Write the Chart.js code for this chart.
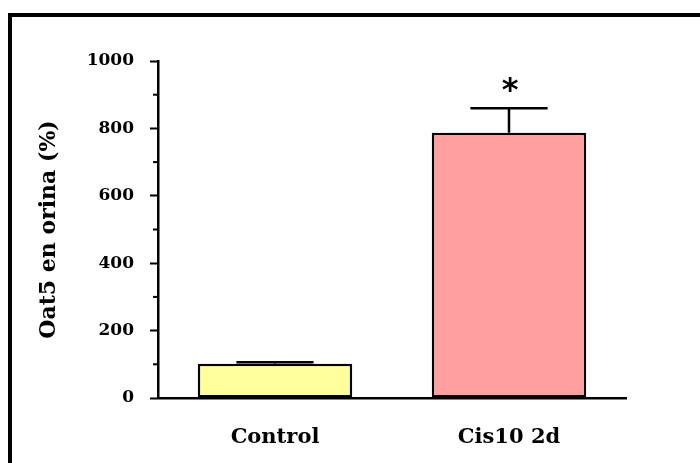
<!DOCTYPE html>
<html>
<head>
<meta charset="utf-8">
<script src="https://cdn.jsdelivr.net/npm/chart.js@4.4.1/dist/chart.umd.min.js"></script>
<style>
  html, body { margin: 0; padding: 0; background: #fff; }
  #wrap { width: 700px; height: 463px; }
</style>
</head>
<body>
<div id="wrap"><canvas id="chart" width="700" height="463"></canvas></div>
<script>
// values
const groups = ["Control", "Cis10 2d"];
const oat5 = [102, 787];        // % of control
const oat5Err = [4, 73];        // upper error bar (SEM)
const signif = ["", "*"];       // significance marks
const barColors = ["#ffff9c", "#ff9f9f"];

const serif = '"DejaVu Serif", "Liberation Serif", serif';

// outer frame of the figure panel
const framePlugin = {
    id: "frame",
    afterDraw(chart) {
        const ctx = chart.ctx;
        ctx.save();
        ctx.strokeStyle = "#000";
        ctx.lineWidth = 4;
        ctx.strokeRect(10, 15, chart.width + 20, chart.height + 20);
        ctx.restore();
    }
};

// short minor ticks on the y axis (every odd hundred)
const minorTickPlugin = {
    id: "minorTicks",
    afterDraw(chart) {
        const y = chart.scales.y;
        const ctx = chart.ctx;
        ctx.save();
        ctx.strokeStyle = "#000";
        ctx.lineWidth = 2;
        y.ticks.forEach((t) => {
            if (t.value % 200 === 0) return;
            const py = y.getPixelForValue(t.value);
            ctx.beginPath();
            ctx.moveTo(y.right - 5, py);
            ctx.lineTo(y.right, py);
            ctx.stroke();
        });
        ctx.restore();
    }
};

// error bars and significance asterisk
const errorBarPlugin = {
    id: "errorBars",
    afterDatasetsDraw(chart) {
        const ctx = chart.ctx;
        const yScale = chart.scales.y;
        const meta = chart.getDatasetMeta(0);
        ctx.save();
        ctx.strokeStyle = "#000";
        ctx.lineWidth = 2.5;
        meta.data.forEach((bar, i) => {
            const top = yScale.getPixelForValue(oat5[i] + oat5Err[i]);
            const half = bar.width * 0.25;
            ctx.beginPath();
            ctx.moveTo(bar.x, bar.y);
            ctx.lineTo(bar.x, top);
            ctx.moveTo(bar.x - half, top);
            ctx.lineTo(bar.x + half, top);
            ctx.stroke();
            if (signif[i]) {
                ctx.fillStyle = "#000";
                ctx.font = 'bold 32px "DejaVu Sans", sans-serif';
                ctx.textAlign = "center";
                ctx.textBaseline = "alphabetic";
                ctx.fillText(signif[i], bar.x + 1, top - 8);
            }
        });
        ctx.restore();
    }
};

new Chart(document.getElementById("chart"), {
    type: "bar",
    data: {
        labels: groups,
        datasets: [{
            data: oat5,
            backgroundColor: barColors,
            borderColor: "#000",
            borderWidth: 2.5,
            borderSkipped: false,
            barPercentage: 0.66,
            categoryPercentage: 1.0
        }]
    },
    options: {
        responsive: false,
        animation: false,
        layout: { padding: { left: 0, top: 61, right: 74, bottom: 0 } },
        plugins: {
            legend: { display: false },
            tooltip: { enabled: false }
        },
        scales: {
            x: {
                grid: { display: false, drawTicks: false },
                border: { display: true, color: "#000", width: 2.5 },
                ticks: {
                    color: "#000",
                    padding: 27,
                    font: { family: serif, size: 21, weight: "bold" }
                },
                afterFit(scale) { scale.height = 65; }
            },
            y: {
                min: 0,
                max: 1000,
                grid: {
                    drawOnChartArea: false,
                    tickLength: 8,
                    tickWidth: 2,
                    tickColor: (c) => (c.tick && c.tick.value % 200 === 0 ? "#000" : "rgba(0,0,0,0)")
                },
                border: { display: true, color: "#000", width: 2.5 },
                ticks: {
                    stepSize: 100,
                    autoSkip: false,
                    color: "#000",
                    padding: 16,
                    font: { family: serif, size: 17, weight: "bold" },
                    callback: (v) => (v % 200 === 0 ? v : "")
                },
                title: {
                    display: true,
                    text: "Oat5 en orina (%)",
                    color: "#000",
                    padding: { top: 36, bottom: 0 },
                    font: { family: serif, size: 22, weight: "bold" }
                },
                afterFit(scale) { scale.width = 158; }
            }
        }
    },
    plugins: [framePlugin, minorTickPlugin, errorBarPlugin]
});
</script>
</body>
</html>
